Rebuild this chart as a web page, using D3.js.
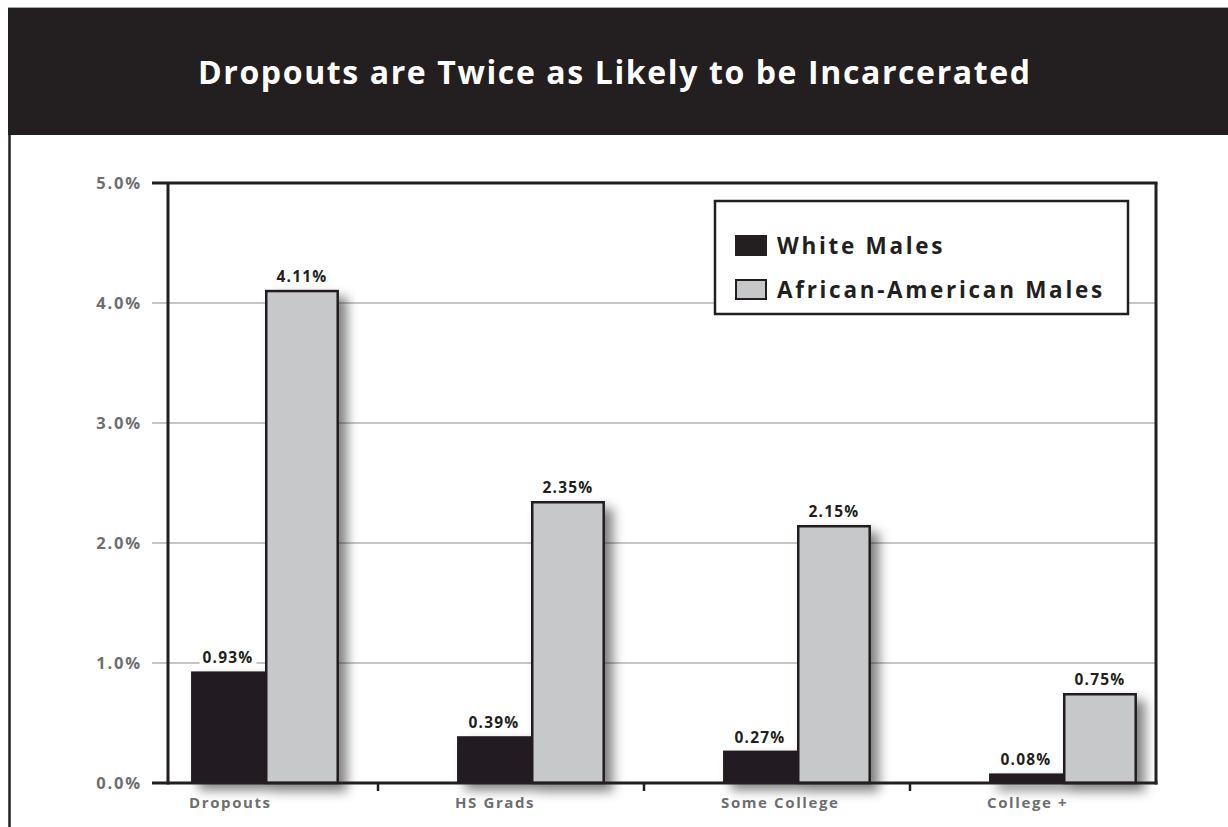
<!DOCTYPE html>
<html>
<head>
<meta charset="utf-8">
<script src="https://cdn.jsdelivr.net/npm/d3@7"></script>
<style>
  html, body { margin: 0; padding: 0; background: #fff; }
  svg { display: block; }
  text { font-family: "Open Sans", "Noto Sans", Lato, sans-serif; font-weight: 700; }
</style>
</head>
<body>
<svg id="chart" width="1228" height="827"></svg>
<script>
const categories = ["Dropouts", "HS Grads", "Some College", "College +"];
const seriesNames = ["White Males", "African-American Males"];
const whiteMales = [0.93, 0.39, 0.27, 0.08];
const africanAmericanMales = [4.11, 2.35, 2.15, 0.75];
const yTicks = [0, 1, 2, 3, 4, 5];
const titleText = "Dropouts are Twice as Likely to be Incarcerated";

const W = 1228, H = 827;
const dark = "#231f20", grayFill = "#c7c8ca", gridGray = "#c6c6c6", labelGray = "#6d6e70";

const svg = d3.select("#chart");

// shadow filter
const defs = svg.append("defs");
const f = defs.append("filter").attr("id", "shadow")
  .attr("x", "-20%").attr("y", "-20%").attr("width", "160%").attr("height", "160%");
f.append("feGaussianBlur").attr("in", "SourceAlpha").attr("stdDeviation", 6).attr("result", "b");
f.append("feOffset").attr("in", "b").attr("dx", 8).attr("dy", 7).attr("result", "o");
f.append("feComponentTransfer").attr("in", "o").attr("result", "o2")
  .append("feFuncA").attr("type", "linear").attr("slope", 0.5);
const m = f.append("feMerge");
m.append("feMergeNode").attr("in", "o2");
m.append("feMergeNode").attr("in", "SourceGraphic");

// header
svg.append("rect").attr("x", 8).attr("y", 7).attr("width", W - 8).attr("height", 128).attr("fill", dark);
svg.append("line").attr("x1", 8).attr("x2", W).attr("y1", 7.5).attr("y2", 7.5).attr("stroke", "#a7a7a7").attr("stroke-width", 1);
svg.append("line").attr("x1", 9.5).attr("x2", 9.5).attr("y1", 135).attr("y2", H).attr("stroke", dark).attr("stroke-width", 2.5);

svg.append("text").attr("x", 614).attr("y", 84).attr("text-anchor", "middle")
  .attr("fill", "#fff").attr("font-size", 32).text(titleText)
  .attr("textLength", 832).attr("lengthAdjust", "spacing");

// scales
const plotLeft = 168, plotRight = 1156, plotTop = 183, plotBottom = 783;
const y = d3.scaleLinear().domain([0, 5]).range([plotBottom, plotTop]);
const x = d3.scaleBand().domain(categories).range([132, 1196]).paddingInner(0.444).paddingOuter(0.222);
const xs = d3.scaleBand().domain(seriesNames).range([0, x.bandwidth()]);

// gridlines
svg.append("g").selectAll("line").data(yTicks.filter(t => t > 0 && t < 5)).join("line")
  .attr("x1", 152).attr("x2", plotRight).attr("y1", d => y(d)).attr("y2", d => y(d))
  .attr("stroke", gridGray).attr("stroke-width", 2);

// y axis labels
const yAxis = d3.axisLeft(y).tickValues(yTicks).tickFormat(d => d3.format(".1f")(d) + "%").tickSize(0).tickPadding(26);
const ya = svg.append("g").attr("transform", `translate(${plotLeft},0)`).call(yAxis);
ya.select(".domain").remove();
ya.selectAll("text").attr("fill", labelGray).attr("font-size", 16.5).attr("letter-spacing", 1.8)
  .attr("font-family", "'Open Sans', sans-serif").attr("font-weight", 700).attr("dy", "0.36em");

// bars
const data = categories.map((c, i) => ({ cat: c, vals: [whiteMales[i], africanAmericanMales[i]] }));
const groups = svg.append("g").selectAll("g").data(data).join("g")
  .attr("transform", d => `translate(${x(d.cat)},0)`)
  .attr("filter", "url(#shadow)");
groups.selectAll("rect").data(d => d.vals.map((v, k) => ({ v, s: seriesNames[k], k }))).join("rect")
  .attr("x", d => xs(d.s) + (d.k === 1 ? 1.25 : 0))
  .attr("width", d => xs.bandwidth() - (d.k === 1 ? 2.5 : 0))
  .attr("y", d => y(d.v) + (d.k === 1 ? 1.25 : 0))
  .attr("height", d => plotBottom - y(d.v) - (d.k === 1 ? 1.25 : 0))
  .attr("fill", d => d.k === 0 ? dark : grayFill)
  .attr("stroke", d => d.k === 1 ? dark : "none")
  .attr("stroke-width", 2.5);

// value labels
const vl = svg.append("g");
data.forEach(d => {
  d.vals.forEach((v, k) => {
    const cx = x(d.cat) + xs(seriesNames[k]) + xs.bandwidth() / 2;
    const t = vl.append("text").attr("x", cx).attr("y", y(v) - 8).attr("text-anchor", "middle")
      .attr("font-size", 15.5).attr("letter-spacing", 1.2).attr("fill", dark).text(d3.format(".2f")(v) + "%");
    const bb = t.node().getBBox();
    vl.insert("rect", () => t.node()).attr("x", bb.x - 3).attr("y", bb.y + 2).attr("width", bb.width + 6).attr("height", bb.height - 4).attr("fill", "#fff");
  });
});

// frame lines
svg.append("line").attr("x1", 152).attr("x2", plotRight + 1.5).attr("y1", plotTop).attr("y2", plotTop).attr("stroke", dark).attr("stroke-width", 3);
svg.append("line").attr("x1", plotRight).attr("x2", plotRight).attr("y1", plotTop).attr("y2", plotBottom + 1.5).attr("stroke", dark).attr("stroke-width", 3);
svg.append("line").attr("x1", plotLeft).attr("x2", plotLeft).attr("y1", plotTop).attr("y2", plotBottom + 1.5).attr("stroke", dark).attr("stroke-width", 3);
svg.append("line").attr("x1", 152).attr("x2", plotRight + 1.5).attr("y1", plotBottom).attr("y2", plotBottom).attr("stroke", dark).attr("stroke-width", 3);

// category ticks between groups
const step = x.step();
svg.append("g").selectAll("line").data(categories.slice(1)).join("line")
  .attr("x1", d => x(d) - (step - x.bandwidth()) / 2 - 20).attr("x2", d => x(d) - (step - x.bandwidth()) / 2 - 20)
  .attr("y1", plotBottom).attr("y2", plotBottom + 8).attr("stroke", dark).attr("stroke-width", 2.5);

// category labels
svg.append("g").selectAll("text").data(categories).join("text")
  .attr("x", d => x(d) - 2).attr("y", 808)
  .attr("fill", labelGray).attr("font-size", 15).attr("letter-spacing", 1.6).text(d => d);

// legend
const lg = svg.append("g");
lg.append("rect").attr("x", 715).attr("y", 201).attr("width", 413).attr("height", 113)
  .attr("fill", "#fff").attr("stroke", dark).attr("stroke-width", 2.5);
seriesNames.forEach((s, k) => {
  const yy = 235 + k * 44;
  lg.append("rect").attr("x", k === 0 ? 735 : 736).attr("y", k === 0 ? yy : yy + 1)
    .attr("width", k === 0 ? 32 : 30).attr("height", k === 0 ? 21 : 19)
    .attr("fill", k === 0 ? dark : grayFill).attr("stroke", k === 0 ? "none" : dark).attr("stroke-width", 2);
  lg.append("text").attr("x", 777).attr("y", yy + 19).attr("font-size", 22.5).attr("letter-spacing", 2.7)
    .attr("fill", dark).text(s);
});
</script>
</body>
</html>
